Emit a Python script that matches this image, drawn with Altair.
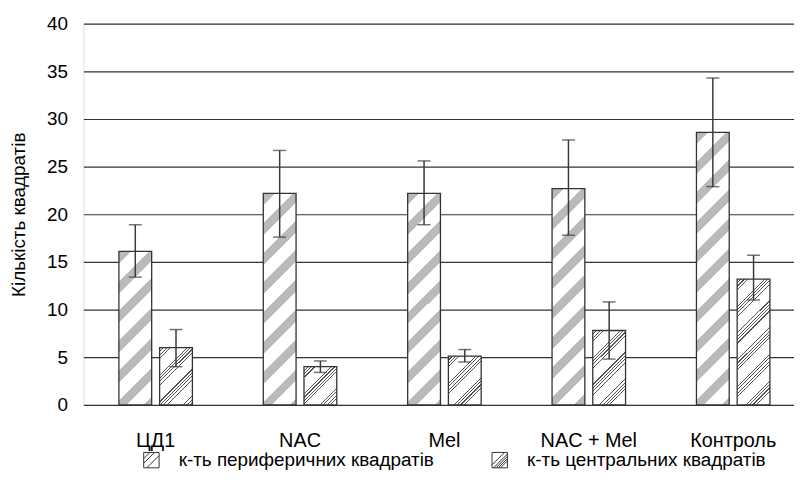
import json
import altair as alt
import pandas as pd

groups = ["ЦД1", "NAC", "Mel", "NAC + Mel", "Контроль"]
series = ["к-ть периферичних квадратів", "к-ть центральних квадратів"]
periph_mean = [16.1, 22.2, 22.2, 22.7, 28.6]
periph_low = [13.4, 17.6, 18.9, 17.8, 22.9]
periph_high = [18.9, 26.7, 25.6, 27.8, 34.3]
central_mean = [6.0, 4.0, 5.1, 7.8, 13.2]
central_low = [4.0, 3.4, 4.5, 4.8, 11.0]
central_high = [7.9, 4.6, 5.8, 10.8, 15.7]

rows = []
for i, g in enumerate(groups):
    rows.append(dict(group=g, series=series[0], value=periph_mean[i], lo=periph_low[i], hi=periph_high[i]))
    rows.append(dict(group=g, series=series[1], value=central_mean[i], lo=central_low[i], hi=central_high[i]))
df = pd.DataFrame(rows)

FONT = "Liberation Sans"
FS = 19
W_PLOT = 716
H_PLOT = 384
PX_PER_UNIT = H_PLOT / 40.0
BAR_W = 33.0
L = 420.0

def stops_periph():
    s = []
    P, band = 30.0, 12.0
    k = 0
    while k * P < L:
        a = k * P / L
        b = min((k * P + band) / L, 1.0)
        s += [dict(offset=round(a, 4), color="#ffffff"), dict(offset=round(a, 4), color="#bababa"),
              dict(offset=round(b, 4), color="#bababa"), dict(offset=round(b, 4), color="#ffffff")]
        k += 1
    return s

def stops_central():
    s = []
    P = 27.0
    k = 0
    while k * P < L:
        for j in range(4):
            st = k * P + j * 3.4
            en = st + 1.2
            if en >= L:
                break
            a, b = round(st / L, 4), round(en / L, 4)
            s += [dict(offset=a, color="#ffffff"), dict(offset=a, color="#555555"),
                  dict(offset=b, color="#555555"), dict(offset=b, color="#ffffff")]
        k += 1
    return s

sp = json.dumps(stops_periph())
sc = json.dumps(stops_central())
h = f"(datum.value*{PX_PER_UNIT})"
den = f"({BAR_W}*{BAR_W}+{h}*{h})"
grad_expr = (
    "{\"gradient\": \"linear\", \"x1\": 0, \"y1\": 0, "
    f"\"x2\": {BAR_W}*{L}/{den}, \"y2\": {h}*{L}/{den}, "
    f"\"stops\": datum.series == '{series[0]}' ? {sp} : {sc}}}"
)

x_enc = alt.X("group:N", sort=groups, title=None,
              scale=alt.Scale(range=[0, 727.5], paddingInner=0.491, paddingOuter=0.2457),
              axis=alt.Axis(ticks=False, domain=False, labelAngle=0, labelPadding=26,
                            labelFont=FONT, labelFontSize=20, labelColor="#000"))
xo = alt.XOffset("series:N", sort=series, scale=alt.Scale(paddingInner=0.195, paddingOuter=0))
y_scale = alt.Scale(domain=[0, 40])

base = alt.Chart(df)

bars = base.transform_calculate(grad=grad_expr).mark_bar(
    stroke="#333333", strokeWidth=1.3
).encode(
    x=x_enc,
    xOffset=xo,
    y=alt.Y("value:Q", scale=y_scale, title="Кількість квадратів",
            axis=alt.Axis(values=list(range(0, 41, 5)), ticks=False, domain=False,
                          grid=True, gridColor="#333", gridWidth=1.2,
                          labelFont=FONT, labelFontSize=FS, labelColor="#000", labelPadding=16,
                          titleFont=FONT, titleFontSize=FS, titleFontWeight="normal",
                          titleColor="#000", titlePadding=18)),
    fill=alt.Fill("grad:N", scale=None),
)

err = base.mark_rule(color="#3a3a3a", strokeWidth=1.5).encode(
    x=alt.X("group:N", sort=groups), xOffset=xo,
    y=alt.Y("lo:Q", scale=y_scale), y2="hi:Q")
cap_hi = base.mark_tick(color="#3a3a3a", size=13, thickness=1.5, orient="horizontal").encode(
    x=alt.X("group:N", sort=groups), xOffset=xo, y=alt.Y("hi:Q", scale=y_scale))
cap_lo = base.mark_tick(color="#3a3a3a", size=13, thickness=1.5, orient="horizontal").encode(
    x=alt.X("group:N", sort=groups), xOffset=xo, y=alt.Y("lo:Q", scale=y_scale))

p_periph = "M-1,-1H1V1H-1Z M-0.6,1L1,-0.6 M-1,0.4L0.4,-1 M-1,-0.2L-0.2,-1"
p_central = "M-1,-1H1V1H-1Z M-0.2,1L1,-0.2 M0.1,1L1,0.1 M-0.5,1L1,-0.5 M-0.8,1L1,-0.8 M-1,0.6L0.6,-1"
legend_layer = base.mark_point(opacity=0, filled=False).encode(
    x=alt.X("group:N", sort=groups), xOffset=xo,
    y=alt.Y("value:Q", scale=y_scale),
    shape=alt.Shape("series:N", sort=series,
                    scale=alt.Scale(domain=series, range=[p_periph, p_central]),
                    legend=alt.Legend(title=None, orient="none", direction="horizontal",
                                      legendX=59, legendY=430, symbolSize=240,
                                      symbolStrokeColor="#333", symbolStrokeWidth=1,
                                      symbolFillColor="#ffffff", symbolOpacity=1,
                                      labelFont=FONT, labelFontSize=FS, labelColor="#000",
                                      labelOffset=18, columnPadding=55, labelLimit=400)),
)

chart = alt.layer(bars, err, cap_hi, cap_lo, legend_layer).properties(
    width=W_PLOT, height=H_PLOT,
    autosize=alt.AutoSizeParams(type="none"),
    padding={"left": 76, "top": 14, "right": 0, "bottom": 84},
).configure_view(stroke=None).configure(background="#ffffff")

chart.save("out.html", embed_options={"renderer": "svg", "actions": False})
